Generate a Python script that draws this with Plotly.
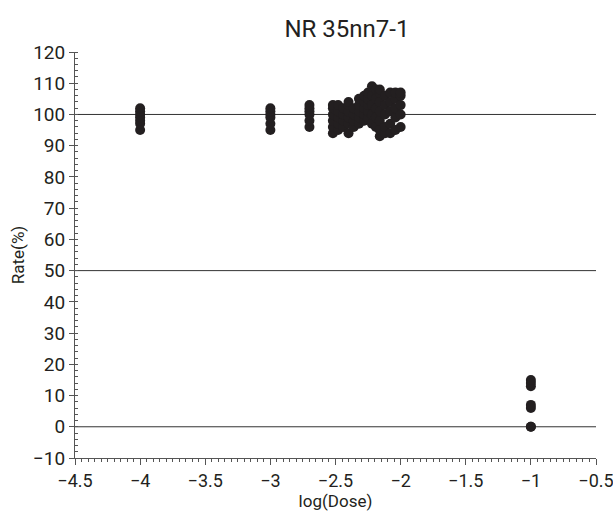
import plotly.graph_objects as go

title = "NR 35nn7-1"

# log(Dose) levels and measured rates
dose_levels = [-4.0, -3.0, -2.7, -2.52, -2.48, -2.44, -2.40, -2.36, -2.32, -2.28, -2.25,
               -2.22, -2.19, -2.16, -2.12, -2.08, -2.04, -2.00, -1.0]
rates = [
    [95, 97, 98, 99, 100, 101, 102],
    [95, 97, 99, 100, 101, 102],
    [96, 98, 100, 101, 102, 103],
    [94, 96, 98, 100, 102, 103],
    [95, 97, 99, 101, 103],
    [96, 98, 100, 102],
    [94, 97, 99, 101, 103, 104],
    [96, 98, 100, 102],
    [97, 99, 101, 103, 105],
    [98, 100, 102, 104, 106],
    [99, 101, 103, 105, 107],
    [97, 100, 103, 106, 109],
    [96, 99, 102, 105, 108],
    [93, 95, 98, 101, 104, 107, 108],
    [94, 96, 100, 103, 106],
    [94, 97, 101, 104, 107],
    [95, 99, 102, 105, 107],
    [96, 100, 103, 106, 107],
    [0, 0, 6, 7, 13, 14, 15],
]
ref_lines = [0, 50, 100]

xs, ys = [], []
for d, rs in zip(dose_levels, rates):
    for r in rs:
        xs.append(d)
        ys.append(r)

font_family = "Roboto, sans-serif"

fig = go.Figure()
fig.add_trace(go.Scatter(
    x=xs, y=ys, mode="markers",
    marker=dict(size=10, color="#231f20", line=dict(width=0)),
    showlegend=False,
))

for v in ref_lines:
    fig.add_shape(type="line", xref="paper", x0=0, x1=1, yref="y", y0=v, y1=v,
                  line=dict(color="#333333", width=1), layer="below")

fig.update_layout(
    width=613, height=515,
    margin=dict(l=75, r=17, t=52, b=57),
    paper_bgcolor="white", plot_bgcolor="white",
    font=dict(family=font_family, color="#231f20", size=19),
    title=dict(text=title, x=0.566, xanchor="center", y=0.945, yanchor="middle",
               font=dict(size=24, family=font_family, color="#231f20")),
)
fig.update_xaxes(
    range=[-4.5, -0.5], dtick=0.5, tick0=-4.5,
    showgrid=False, zeroline=False, automargin=False,
    ticklabeloverflow="allow",
    showline=True, linecolor="#555555", linewidth=1,
    ticks="outside", ticklen=6, tickcolor="#555555",
    minor=dict(dtick=0.05, ticks="outside", ticklen=3, tickcolor="#555555"),
    title=dict(text="log(Dose)", font=dict(size=17), standoff=2),
    tickfont=dict(size=18),
)
fig.update_yaxes(
    range=[-10, 120], dtick=10, tick0=0,
    showgrid=False, zeroline=False, automargin=False,
    ticklabeloverflow="allow",
    showline=True, linecolor="#555555", linewidth=1,
    ticks="outside", ticklen=5, tickcolor="#555555",
    minor=dict(dtick=2, ticks="inside", ticklen=3, tickcolor="#555555"),
    title=dict(text="Rate(%)", font=dict(size=17), standoff=4),
    tickfont=dict(size=19),
)

fig.write_html("out.html")
